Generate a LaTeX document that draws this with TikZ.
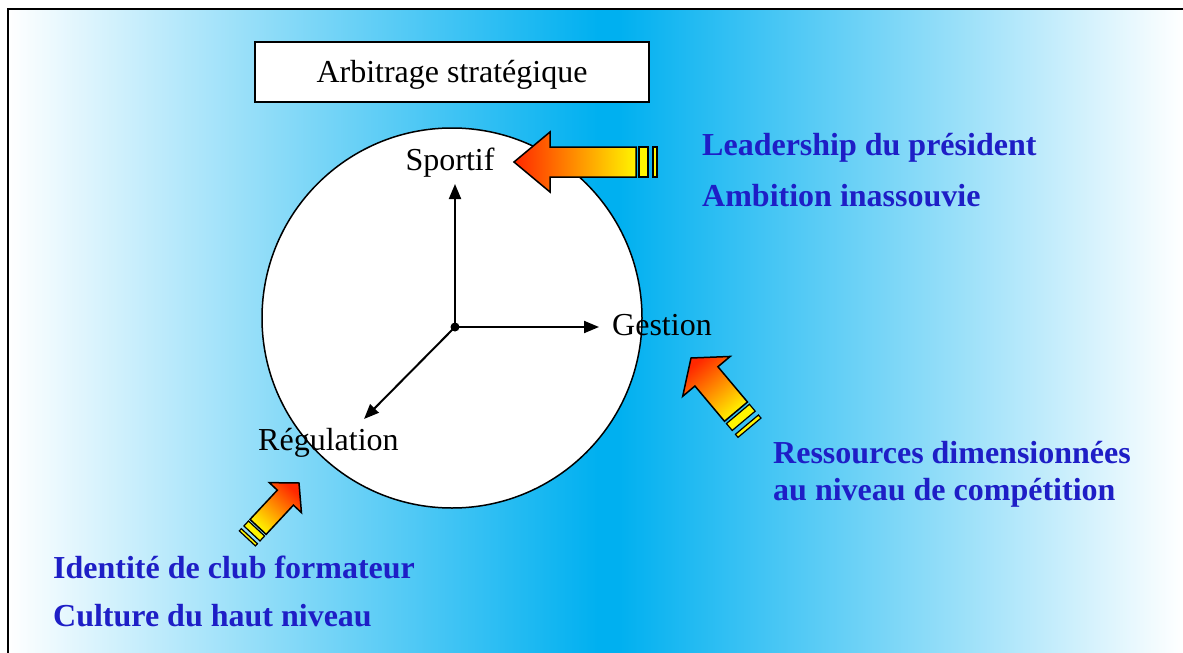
\documentclass[tikz,border=0pt]{standalone}
\usepackage{fontspec}
\setmainfont{Liberation Serif}
\usetikzlibrary{arrows.meta}
\definecolor{cyanbg}{RGB}{0,176,240}
\definecolor{txtblue}{RGB}{30,30,198}
\definecolor{arrred}{RGB}{255,40,0}
\definecolor{arryel}{RGB}{255,245,0}
\tikzset{
  lbl/.style={font=\fontsize{32}{38}\selectfont, inner sep=0pt},
  bluelbl/.style={font=\fontsize{32}{38}\selectfont\bfseries, text=txtblue, inner sep=0pt, anchor=base west},
  axisline/.style={line width=2pt, -{Triangle[length=15pt,width=12pt]}},
  blockout/.style={draw=black, line width=1.5pt, line join=miter},
  stripe/.style={draw=black, line width=1.2pt, fill=arryel},
}
\newcommand\blockarrow[8]{%
 \pgfmathsetmacro\shAng{#3-90}%
 \begin{scope}[shift={(#1,#2)}, rotate=#3]
  \pgfmathsetmacro\stA{#4+3*#8}\pgfmathsetmacro\stB{#4+12*#8}%
  \pgfmathsetmacro\stC{#4+17*#8}\pgfmathsetmacro\stD{#4+21*#8}%
  \path[blockout, top color=arrred, bottom color=arryel, shading angle=\shAng] (0,0) -- (-#5,#6) -- (-#5,#7) -- (-#4,#7) -- (-#4,-#7) -- (-#5,-#7) -- (-#5,-#6) -- cycle;
  \draw[stripe] (-\stA,-#7) rectangle (-\stB,#7);
  \draw[stripe] (-\stC,-#7) rectangle (-\stD,#7);
 \end{scope}}
\begin{document}
\begin{tikzpicture}[x=1pt,y=-1pt]
\useasboundingbox (0,0) rectangle (1183,653);
\fill[white] (0,0) rectangle (1183,653);
\shade[left color=white, right color=cyanbg] (8,9) rectangle (598,653);
\fill[cyanbg] (597,9) rectangle (619,653);
\shade[left color=cyanbg, right color=white] (618,9) rectangle (1183,653);
\draw[line width=2pt] (8,653) -- (8,9) -- (1183,9);
\node[draw, line width=1.5pt, fill=white, minimum width=394pt, minimum height=60pt, inner sep=0pt] (title) at (452,72) {};
\node[lbl, anchor=base] (titletext) at (452,82) {Arbitrage stratégique};
\node[circle, draw, line width=1.5pt, fill=white, minimum size=380pt, inner sep=0pt] (disc) at (452,318) {};
\node[lbl, anchor=base] (sportif) at (450,170) {Sportif};
\node[lbl, anchor=base west] (gestion) at (612,335) {Gestion};
\node[lbl, anchor=base west] (regul) at (258,450) {Régulation};
\coordinate (o) at (455,327);
\coordinate (up) at (455,184);
\coordinate (right) at (599,327);
\coordinate (dl) at (364,419);
\draw[axisline] (o) -- (up);
\draw[axisline] (o) -- (right);
\draw[axisline] (o) -- (dl);
\fill (o) circle (4.5);
\blockarrow{514}{162}{180}{122}{36}{30}{15}{1}
\blockarrow{691}{358}{130}{70}{24}{31}{15}{1}
\blockarrow{299}{483}{47}{60}{20}{22}{11}{0.75}
\node[bluelbl] (l1) at (702,155) {Leadership du président};
\node[bluelbl] (l2) at (702,206) {Ambition inassouvie};
\node[bluelbl] (r1) at (773,463) {Ressources dimensionnées};
\node[bluelbl] (r2) at (773,500) {au niveau de compétition};
\node[bluelbl] (i1) at (53,578) {Identité de club formateur};
\node[bluelbl] (i2) at (53,626) {Culture du haut niveau};
\end{tikzpicture}
\end{document}
